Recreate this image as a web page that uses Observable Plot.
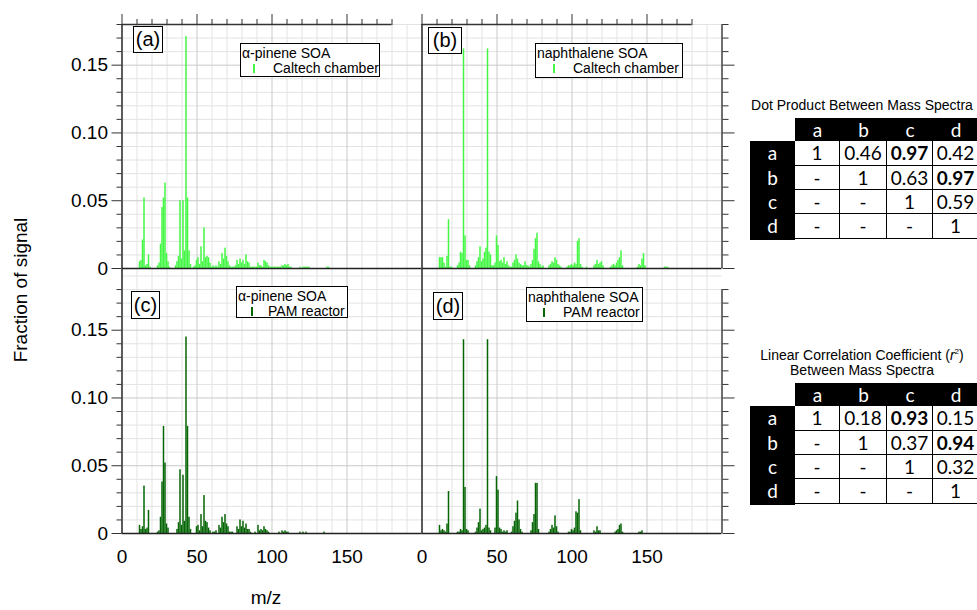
<!DOCTYPE html>
<html><head><meta charset="utf-8">
<script src="https://cdn.jsdelivr.net/npm/d3@7"></script>
<script src="https://cdn.jsdelivr.net/npm/@observablehq/plot@0.6"></script>
<style>
html,body{margin:0;padding:0;background:#fff;}
#root{position:relative;width:977px;height:610px;overflow:hidden;font-family:"Liberation Sans",Arial,sans-serif;color:#000;}
#root svg{position:absolute;left:0;top:0;}
.lab{position:absolute;box-sizing:border-box;border:1px solid #000;background:#fff;font-size:20px;text-align:center;}
.leg{position:absolute;box-sizing:border-box;border:1px solid #000;background:#fff;font-size:14px;}
.leg span{position:absolute;white-space:nowrap;line-height:16px;}
.sym{position:absolute;width:2px;height:9px;}
.txt{position:absolute;white-space:nowrap;}
.cell{position:absolute;box-sizing:border-box;text-align:center;font-family:Lato,"Open Sans",sans-serif;font-size:19px;}
</style></head><body><div id="root"></div>
<script>
// ---------- data: [m/z, fraction of signal] ----------
const caltechPinene = [[12,.005],[13,.006],[14,.021],[15,.052],[16,.002],[17,.003],[18,.010],[19,.001],
[24,.002],[25,.004],[26,.018],[27,.045],[28,.052],[29,.063],[30,.011],[31,.005],[32,.001],
[36,.002],[37,.005],[38,.009],[39,.050],[40,.007],[41,.050],[42,.013],[43,.171],[44,.052],[45,.013],[46,.003],
[48,.001],[49,.002],[50,.006],[51,.008],[52,.003],[53,.016],[54,.005],[55,.030],[56,.008],[57,.009],[58,.008],[59,.004],
[60,.001],[61,.002],[62,.001],[63,.002],[64,.001],[65,.005],[66,.003],[67,.011],[68,.007],[69,.015],[70,.009],[71,.005],
[72,.002],[73,.001],[74,.001],[75,.001],[76,.002],[77,.006],[78,.003],[79,.007],[80,.004],[81,.006],[82,.003],[83,.010],
[84,.005],[85,.004],[86,.001],[87,.001],[88,.001],[89,.001],[90,.001],[91,.004],[92,.002],[93,.002],[94,.001],[95,.006],
[96,.005],[97,.004],[98,.002],[99,.001],[100,.001],[101,.001],[102,.001],[103,.001],[104,.001],[105,.001],[106,.001],
[107,.002],[108,.002],[109,.003],[110,.002],[111,.003],[112,.001],[113,.001],[119,.001],[121,.001],[122,.001],[123,.001],
[124,.001],[125,.001],[137,.001],[138,.001]];

const caltechNaph = [[12,.008],[13,.008],[14,.008],[15,.004],[16,.001],[17,.009],[18,.036],[19,.001],[20,.001],
[24,.002],[25,.004],[26,.012],[27,.011],[28,.162],[29,.024],[30,.006],[31,.006],[32,.002],
[36,.002],[37,.005],[38,.008],[39,.016],[40,.005],[41,.007],[42,.012],[43,.015],[44,.162],[45,.012],[46,.010],[47,.002],
[48,.002],[49,.004],[50,.024],[51,.017],[52,.005],[53,.006],[54,.004],[55,.008],[56,.003],[57,.005],[58,.002],[59,.001],
[60,.001],[61,.004],[62,.006],[63,.010],[64,.007],[65,.004],[66,.003],[67,.002],[68,.002],[69,.005],[70,.002],[71,.002],
[72,.001],[73,.003],[74,.006],[75,.014],[76,.022],[77,.026],[78,.005],[79,.003],[80,.001],[81,.002],
[85,.002],[86,.003],[87,.005],[88,.004],[89,.008],[90,.006],[91,.003],[92,.002],[93,.001],
[97,.001],[98,.002],[99,.002],[100,.003],[101,.002],[102,.004],[103,.003],[104,.020],[105,.022],[106,.003],[107,.001],
[110,.001],[115,.002],[116,.003],[117,.006],[118,.003],[119,.004],[120,.005],[121,.002],
[126,.001],[127,.002],[128,.003],[129,.002],[130,.004],[131,.006],[132,.008],[133,.013],[134,.002],
[144,.001],[145,.003],[146,.002],[147,.007],[148,.011],[149,.002],[162,.001],[163,.001],[164,.001]];

const pamPinene = [[12,.006],[13,.003],[14,.005],[15,.035],[16,.003],[17,.004],[18,.017],
[24,.001],[25,.002],[26,.012],[27,.038],[28,.079],[29,.052],[30,.007],[31,.004],
[37,.003],[38,.008],[39,.047],[40,.006],[41,.043],[42,.009],[43,.145],[44,.079],[45,.012],[46,.003],
[50,.005],[51,.006],[52,.002],[53,.014],[54,.005],[55,.028],[56,.009],[57,.008],[58,.004],[59,.002],
[61,.001],[62,.001],[63,.002],[65,.006],[66,.004],[67,.012],[68,.008],[69,.014],[70,.007],[71,.005],
[72,.001],[73,.001],[74,.001],[77,.005],[78,.003],[79,.010],[80,.005],[81,.009],[82,.004],[83,.007],
[84,.003],[85,.003],[86,.001],[89,.001],[91,.006],[92,.002],[93,.003],[94,.002],[95,.005],[96,.003],
[97,.002],[98,.001],[105,.001],[107,.002],[108,.001],[109,.002],[110,.001],[111,.001],[119,.001],
[121,.001],[123,.001],[135,.001]];

const pamNaph = [[12,.006],[13,.002],[14,.003],[15,.002],[16,.001],[17,.007],[18,.031],
[24,.001],[25,.001],[26,.003],[27,.002],[28,.143],[29,.034],[30,.003],[31,.002],
[36,.001],[37,.004],[38,.008],[39,.018],[40,.002],[41,.003],[42,.004],[43,.006],[44,.143],[45,.004],[46,.002],
[49,.004],[50,.042],[51,.032],[52,.004],[53,.003],[54,.001],[55,.002],[56,.001],[57,.002],
[60,.001],[61,.005],[62,.009],[63,.015],[64,.024],[65,.010],[66,.003],[67,.001],
[73,.002],[74,.008],[75,.014],[76,.037],[77,.037],[78,.003],
[85,.001],[86,.003],[87,.006],[88,.004],[89,.013],[90,.005],[91,.001],
[98,.001],[99,.001],[100,.003],[101,.002],[102,.004],[103,.016],[104,.015],[105,.025],[106,.002],
[115,.002],[116,.001],[117,.005],[118,.002],[119,.002],
[129,.001],[130,.002],[131,.003],[132,.006],[133,.007],[134,.001],[145,.001],[146,.001],[147,.002]];

const xTickLabels = [0, 50, 100, 150];
const yTickValues = [0, 0.05, 0.10, 0.15];
const panelTags = ["(a)", "(b)", "(c)", "(d)"];
const legendTitles = ["\u03b1-pinene SOA", "naphthalene SOA", "\u03b1-pinene SOA", "naphthalene SOA"];
const legendSeries = ["Caltech chamber", "Caltech chamber", "PAM reactor", "PAM reactor"];
const tableKeys = ["a", "b", "c", "d"];
const dotValues = [["1","0.46","0.97","0.42"],["-","1","0.63","0.97"],["-","-","1","0.59"],["-","-","-","1"]];
const r2Values  = [["1","0.18","0.93","0.15"],["-","1","0.37","0.94"],["-","-","1","0.32"],["-","-","-","1"]];
const boldCells = [[0,2],[1,3]];

// ---------- layout ----------
const W = 977, H = 610;
const LIGHT = "#44f744", DARK = "#066606";
const root = document.getElementById("root");
const fmt = d => d === 0 ? "0" : d3.format(".2f")(d);

function panel({data, color, x0, top, bottom, yMax, isTop, isRight}) {
  const xMinor = d3.range(10, 200, 10).filter(v => v % 50 !== 0);
  const yMinor = d3.range(1, Math.round(yMax * 100) + 1).map(i => i / 100).filter(v => Math.round(v * 100) % 5 !== 0);
  const tickMinor = d3.range(1, 19).map(i => i / 100).filter(v => Math.round(v * 100) % 5 !== 0);
  const marks = [
    Plot.ruleX(xMinor, {stroke: "#e3e3e3"}),
    Plot.ruleY(yMinor, {stroke: "#e3e3e3"}),
    Plot.ruleX([50, 100, 150], {stroke: "#c9c9c9"}),
    Plot.ruleY([0.05, 0.10, 0.15], {stroke: "#c9c9c9"}),
    Plot.rect(data, {x1: d => d[0] - 0.5, x2: d => d[0] + 0.5, y1: 0, y2: d => d[1], fill: color}),
    Plot.ruleX([0], {stroke: "#333", strokeWidth: 1.6}),
    Plot.ruleY([0], {stroke: "#222", strokeWidth: 1.6})
  ];
  if (!isRight) {
    marks.push(Plot.axisY(yTickValues, {anchor: "left", tickSize: 10, tickPadding: 4, fontSize: 19, tickFormat: fmt, label: null, stroke: "#333"}));
    marks.push(Plot.axisY(tickMinor, {anchor: "left", tickSize: 5, tickFormat: () => "", label: null, stroke: "#333"}));
  } else {
    marks.push(Plot.ruleX([200], {y1: 0, y2: 0.18, stroke: "#333", strokeWidth: 1.4}));
    marks.push(Plot.axisY(yTickValues, {anchor: "right", tickSize: 12, tickFormat: () => "", label: null, stroke: "#333"}));
    marks.push(Plot.axisY(tickMinor, {anchor: "right", tickSize: 6, tickFormat: () => "", label: null, stroke: "#333"}));
  }
  if (isTop) {
    marks.push(Plot.ruleY([yMax], {x1: 0, x2: 180, stroke: "#333", strokeWidth: 1.6}));
    marks.push(Plot.axisX(xTickLabels, {anchor: "top", tickSize: 11, tickFormat: () => "", label: null, stroke: "#333"}));
    marks.push(Plot.axisX(d3.range(10, 181, 10).filter(v => v % 50 !== 0), {anchor: "top", tickSize: 6, tickFormat: () => "", label: null, stroke: "#333"}));
  } else {
    marks.push(Plot.axisX(xTickLabels, {anchor: "bottom", tickSize: 0, tickPadding: 16, fontSize: 19, label: null}));
  }
  const svg = Plot.plot({
    width: W, height: H,
    marginLeft: x0, marginRight: W - x0 - 300, marginTop: top, marginBottom: H - bottom,
    x: {domain: [0, 200]},
    y: {domain: [0, yMax]},
    style: {background: "transparent", fontFamily: "'Liberation Sans', Arial, sans-serif", color: "#000", overflow: "visible"},
    marks
  });
  root.appendChild(svg);
}

panel({data: pamPinene, color: DARK, x0: 121.5, top: 269, bottom: 533, yMax: 0.1948, isTop: false, isRight: false});
panel({data: pamNaph, color: DARK, x0: 421.5, top: 269, bottom: 533, yMax: 0.1948, isTop: false, isRight: true});
panel({data: caltechPinene, color: LIGHT, x0: 121.5, top: 24, bottom: 268, yMax: 0.18, isTop: true, isRight: false});
panel({data: caltechNaph, color: LIGHT, x0: 421.5, top: 24, bottom: 268, yMax: 0.18, isTop: true, isRight: true});

function el(cls, css, html) {
  const d = document.createElement("div");
  d.className = cls;
  Object.assign(d.style, css);
  if (html != null) d.innerHTML = html;
  root.appendChild(d);
  return d;
}

// panel tags
const tagBoxes = [[133, 26, 30, 27], [428, 27, 34, 27], [131, 291, 29, 28], [433, 292, 30, 28]];
panelTags.forEach((t, i) => {
  const [l, tp, w, h] = tagBoxes[i];
  el("lab", {left: l + "px", top: tp + "px", width: w + "px", height: h + "px", lineHeight: (h - 2) + "px"}, t);
});

// legends
const legBoxes = [[240, 43, 140, 34, 12, 32], [535, 43, 148, 35, 17, 37], [236, 286, 112, 32, 14, 31], [526, 287, 117, 35, 16, 36]];
const legColors = [LIGHT, LIGHT, DARK, DARK];
legBoxes.forEach(([l, t, w, h, sx, tx], i) => {
  const box = el("leg", {left: l + "px", top: t + "px", width: w + "px", height: h + "px"});
  const s1 = document.createElement("span"); s1.textContent = legendTitles[i];
  Object.assign(s1.style, {left: "1px", top: "1px"});
  const s2 = document.createElement("span"); s2.textContent = legendSeries[i];
  Object.assign(s2.style, {left: tx + "px", top: "16px"});
  const sym = document.createElement("div"); sym.className = "sym";
  Object.assign(sym.style, {left: sx + "px", top: "20px", background: legColors[i]});
  box.append(s1, s2, sym);
});

// axis titles
el("txt", {left: "21px", top: "290px", fontSize: "19px", transform: "translate(-50%,-50%) rotate(-90deg)"}, "Fraction of signal");
el("txt", {left: "266px", top: "598px", fontSize: "19px", transform: "translate(-50%,-50%)"}, "m/z");

// tables
function table(dy, titleLines, vals) {
  titleLines.forEach((t, k) => {
    el("txt", {left: "862px", top: (titleLines.length === 1 ? 105 : 355 + 15 * k - 265) + dy + "px", fontSize: "14px", transform: "translate(-50%,-50%)"}, t);
  });
  const colX = [750, 795, 840, 887, 933, 979];
  const rowY = [118, 141, 165.5, 190, 214, 238.5];
  el("cell", {left: "795px", top: 118 + dy + "px", width: "184px", height: "23px", background: "#000"});
  el("cell", {left: "750px", top: 141 + dy + "px", width: "45px", height: "99px", background: "#000"});
  tableKeys.forEach((k, j) => {
    el("cell", {left: colX[j + 1] + "px", top: 118 + dy + "px", width: (colX[j + 2] - colX[j + 1]) + "px", height: "23px", lineHeight: "23px", color: "#fff"}, k);
    el("cell", {left: "750px", top: rowY[j + 1] + dy + "px", width: "45px", height: "24px", lineHeight: "24px", color: "#fff"}, k);
  });
  vals.forEach((row, r) => row.forEach((v, c) => {
    const bold = boldCells.some(([br, bc]) => br === r && bc === c);
    el("cell", {left: colX[c + 1] + "px", top: rowY[r + 1] + dy + "px", width: (colX[c + 2] - colX[c + 1]) + "px", height: (rowY[r + 2] - rowY[r + 1]) + "px",
      lineHeight: (rowY[r + 2] - rowY[r + 1]) + "px", fontWeight: bold ? "700" : "400",
      borderRight: "1.5px solid #000", borderBottom: "1.5px solid #000", background: "#fff"}, v);
  }));
}
table(0, ["Dot Product Between Mass Spectra"], dotValues);
table(265, ["Linear Correlation Coefficient (<i>r</i><sup style='font-size:8px'>2</sup>)", "Between Mass Spectra"], r2Values);
</script></body></html>
